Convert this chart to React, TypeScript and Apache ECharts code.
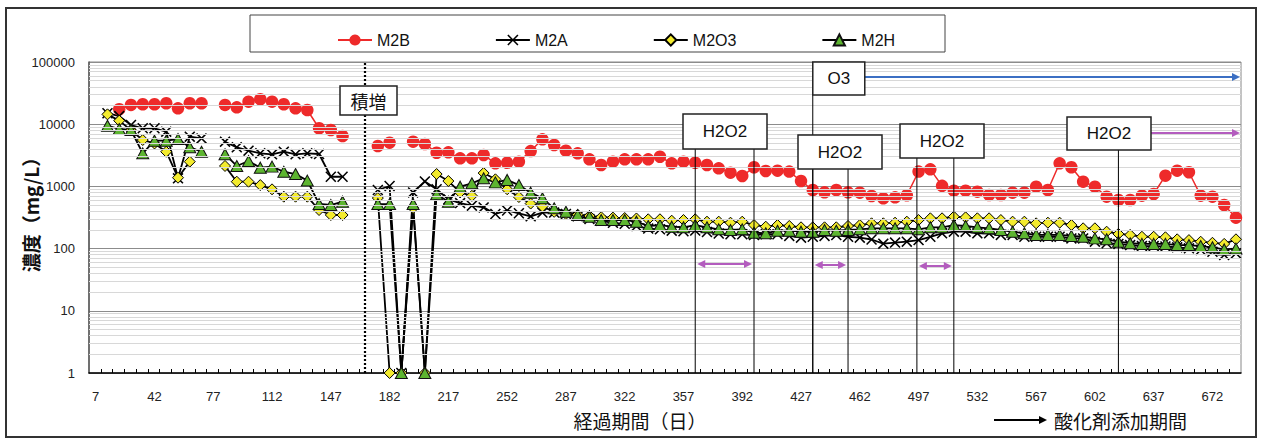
import React, { useEffect, useRef } from "react";
import * as echarts from "echarts";

const days = [14,21,28,35,42,49,56,63,70,77,84,91,98,105,112,119,126,133,140,147,154,161,168,175,182,189,196,203,210,217,224,231,238,245,252,259,266,273,280,287,294,301,308,315,322,329,336,343,350,357,364,371,378,385,392,399,406,413,420,427,434,441,448,455,462,469,476,483,490,497,504,511,518,525,532,539,546,553,560,567,574,581,588,595,602,609,616,623,630,637,644,651,658,665,672,679,686];

const m2b = [
  null,17400,20400,20900,20900,21700,18000,21700,21700,null,
  20400,18700,23000,25200,23000,20900,18000,16900,8600,8070,
  6460,null,null,4460,5040,null,5230,4810,3480,3530,
  2830,2830,3200,2350,2400,2500,3700,5710,4630,3750,
  3400,2720,2210,2500,2720,2720,2720,3000,2350,2500,
  2400,2210,1950,1660,1470,2030,1770,1790,1730,1220,
  875,804,875,804,793,701,643,667,720,1730,
  1880,1020,853,853,822,728,728,793,793,990,
  875,2350,2030,1190,990,683,604,604,709,755,
  1490,1790,1690,709,683,502,314,
];
const m2a = [
  15000,13500,9700,8600,8600,7580,1350,6300,5900,null,
  5230,4250,3750,3400,3280,3610,3280,3400,3320,1430,
  1430,null,null,875,1015,1,800,1200,900,620,
  540,490,460,360,410,370,330,380,380,360,
  330,300,280,260,250,230,210,204,194,190,
  195,185,175,170,170,165,170,170,160,150,
  155,160,165,155,150,140,120,125,129,137,
  155,176,187,187,176,176,166,166,155,155,
  155,155,146,146,129,122,119,114,110,110,
  108,105,101,95,89,79,84,
];
const m2o3 = [
  14400,11400,8000,5570,4900,3610,1380,2500,null,null,
  2130,1190,1190,1050,897,684,684,684,417,347,
  347,null,null,650,1,1,450,1,1580,1220,
  800,705,1640,1300,900,675,530,475,390,360,
  350,335,320,315,310,305,296,296,281,288,
  296,271,271,261,271,239,225,239,231,220,
  220,220,220,231,239,255,255,261,271,288,
  307,307,326,318,307,307,288,271,271,255,
  261,261,239,212,212,187,172,166,155,155,
  152,141,137,129,124,119,141,
];
const m2h = [
  9460,8370,8070,3400,5430,5430,5780,4270,3610,null,
  3280,2130,2560,2000,2080,1720,1580,1240,521,502,
  568,null,null,520,520,1,520,1,750,568,
  990,1120,1350,1160,1270,1050,793,643,444,392,
  347,326,288,288,288,271,231,239,225,220,
  239,220,204,199,204,180,176,194,194,187,
  187,199,194,199,204,212,212,212,212,204,
  220,220,239,231,220,212,199,187,176,166,
  166,166,160,155,146,141,129,122,119,119,
  119,114,114,110,105,97,100,
];

const seriesNames = ["M2B", "M2A", "M2O3", "M2H"];
const xLabelValues = [7,42,77,112,147,182,217,252,287,322,357,392,427,462,497,532,567,602,637,672];
const xTickValues = [10,17,24,31,38,45,52,59,66,73,80,87,94,101,108,115,122,129,136,143,150,157,164,171,178,185,192,199,206,213,220,227,234,241,248,255,262,269,276,283,290,297,304,311,318,325,332,339,346,353,360,367,374,381,388,395,402,409,416,423,430,437,444,451,458,465,472,479,486,493,500,507,514,521,528,535,542,549,556,563,570,577,584,591,598,605,612,619,626,633,640,647,654,661,668,675,682];
const yMinorValues = [2,3,4,5,6,7,8,9,20,30,40,50,60,70,80,90,200,300,400,500,600,700,800,900,2000,3000,4000,5000,6000,7000,8000,9000,20000,30000,40000,50000,60000,70000,80000,90000];

const dottedDay = 167;
const h2o2Periods = [[364, 399], [434, 455], [496, 518]];
const h2o2OpenStart = 616;
const o3Start = 434;

const X_PATH = "path://M1,0 L5,4 L9,0 L10,1 L6,5 L10,9 L9,10 L5,6 L1,10 L0,9 L4,5 L0,1 Z";
const LATIN = "Liberation Sans, Arial, sans-serif";
const CJK = "Noto Sans CJK JP, sans-serif";

function toData(arr: (number | null)[]) {
  return days.map((d, i) => [d, arr[i] == null ? "-" : arr[i]]);
}

export default function App() {
  const ref = useRef<HTMLDivElement>(null);
  useEffect(() => {
    const chart = echarts.init(ref.current!, null, { renderer: "svg" });
    const blackLine = { color: "#000", width: 1.8 };
    chart.setOption({
      animation: false,
      backgroundColor: "#fff",
      grid: { left: 89, right: 22, top: 62, bottom: 66, show: true, borderColor: "#888", borderWidth: 1 },
      legend: {
        data: seriesNames,
        left: 332,
        top: 27,
        itemWidth: 34,
        itemHeight: 14,
        itemGap: 85,
        textStyle: { fontSize: 16, fontFamily: LATIN, color: "#111" },
      },
      xAxis: {
        type: "value",
        min: 3,
        max: 689,
        axisLine: { show: true, onZero: false, lineStyle: { color: "#000", width: 1.5 } },
        axisTick: { show: true, inside: true, length: 4, customValues: xTickValues, lineStyle: { color: "#000" } },
        axisLabel: { customValues: xLabelValues, fontSize: 13, fontFamily: LATIN, color: "#222", margin: 17 },
        splitLine: { show: false },
      },
      yAxis: {
        type: "log",
        logBase: 10,
        min: 1,
        max: 100000,
        axisLine: { show: true, lineStyle: { color: "#555", width: 1.5 } },
        axisTick: { show: false },
        axisLabel: { fontSize: 13, fontFamily: LATIN, color: "#222", margin: 14, formatter: (v: number) => String(Math.round(v)) },
        splitLine: { show: true, lineStyle: { color: "#8c8c8c", width: 1 } },
      },
      series: [
        {
          name: "grid-minor",
          type: "line",
          data: [],
          z: 1,
          silent: true,
          markLine: {
            silent: true,
            symbol: ["none", "none"],
            label: { show: false },
            lineStyle: { color: "#d8d8d8", type: "solid", width: 1 },
            data: [
              ...yMinorValues.map((v) => ({ yAxis: v })),
              { xAxis: dottedDay, lineStyle: { color: "#000", type: [2, 2], width: 2.2 } },
            ],
          },
        },
        {
          name: "M2B",
          type: "line",
          data: toData(m2b),
          symbol: "circle",
          symbolSize: 12.5,
          itemStyle: { color: "#EE2A2A" },
          lineStyle: { color: "#EE2A2A", width: 1.5 },
          connectNulls: false,
        },
        {
          name: "M2A",
          type: "line",
          data: toData(m2a),
          symbol: X_PATH,
          symbolSize: 11,
          itemStyle: { color: "#000" },
          lineStyle: blackLine,
          connectNulls: false,
        },
        {
          name: "M2O3",
          type: "line",
          data: toData(m2o3),
          symbol: "diamond",
          symbolSize: [11, 11],
          itemStyle: { color: "#F3EB2E", borderColor: "#000", borderWidth: 1 },
          lineStyle: blackLine,
          connectNulls: false,
        },
        {
          name: "M2H",
          type: "line",
          data: toData(m2h),
          symbol: "triangle",
          symbolSize: [12, 11],
          itemStyle: { color: "#5DB530", borderColor: "#111", borderWidth: 1 },
          lineStyle: blackLine,
          connectNulls: false,
        },
      ],
    });

    const xp = (d: number) => chart.convertToPixel({ xAxisIndex: 0 }, d) as number;
    const yBottom = chart.convertToPixel({ yAxisIndex: 0 }, 1) as number;
    const xRight = xp(689);
    const pink = "#B35CBE";
    const blue = "#3B6FC3";

    const g: any[] = [];
    const vline = (x: number, y1: number, y2: number) =>
      g.push({ type: "line", z: 90, shape: { x1: x, y1, x2: x, y2 }, style: { stroke: "#000", lineWidth: 1 } });
    const box = (x: number, y: number, w: number, h: number, text: string, font: string, size: number) => {
      g.push({ type: "rect", z: 95, shape: { x, y, width: w, height: h }, style: { fill: "#fff", stroke: "#222", lineWidth: 1.5 } });
      g.push({
        type: "text", z: 96, x: x + w / 2, y: y + h / 2,
        style: { text, fontSize: size, fontFamily: font, fill: "#111", textAlign: "center", textVerticalAlign: "middle", align: "center", verticalAlign: "middle" },
      });
    };
    const arrowHead = (x: number, y: number, dir: number, color: string, len = 8, half = 4) =>
      g.push({ type: "polygon", z: 92, shape: { points: [[x, y], [x - dir * len, y - half], [x - dir * len, y + half]] }, style: { fill: color } });
    const hArrow = (x1: number, x2: number, y: number, color: string, both: boolean) => {
      g.push({ type: "line", z: 91, shape: { x1: both ? x1 + 6 : x1, y1: y, x2: x2 - 6, y2: y }, style: { stroke: color, lineWidth: 2 } });
      arrowHead(x2, y, 1, color);
      if (both) arrowHead(x1, y, -1, color);
    };

    // outer frame and legend frame
    g.push({ type: "rect", z: 0, shape: { x: 6, y: 8, width: 1250, height: 429 }, style: { fill: "none", stroke: "#333", lineWidth: 2 } });
    g.push({ type: "rect", z: 0, shape: { x: 250, y: 15, width: 695, height: 37 }, style: { fill: "none", stroke: "#444", lineWidth: 1 } });

    // axis names
    g.push({
      type: "text", x: 30, y: 210, rotation: Math.PI / 2,
      style: { text: "濃度（mg/L）", fontSize: 19, fontWeight: "bold", fontFamily: CJK, fill: "#111", textAlign: "center", textVerticalAlign: "middle", align: "center", verticalAlign: "middle" },
    });
    g.push({
      type: "text", x: 640, y: 420,
      style: { text: "経過期間（日）", fontSize: 19, fontFamily: CJK, fill: "#111", textAlign: "center", textVerticalAlign: "middle", align: "center", verticalAlign: "middle" },
    });
    // oxidant legend
    hArrow(994, 1047, 420, "#000", false);
    g.push({
      type: "text", x: 1054, y: 420,
      style: { text: "酸化剤添加期間", fontSize: 19, fontFamily: CJK, fill: "#111", textAlign: "left", textVerticalAlign: "middle", align: "left", verticalAlign: "middle" },
    });

    // 積増 box
    box(340, 86, 57, 29, "積増", CJK, 18);

    // O3
    const xo3 = xp(o3Start);
    vline(xo3, 95, yBottom);
    box(xo3, 62, 52, 33, "O3", LATIN, 17);
    hArrow(xo3 + 52, xRight - 1, 77, blue, false);

    // H2O2 periods
    const boxPos = [
      { x: 683, y: 114, w: 84, h: 35, ay: 264 },
      { x: 798, y: 135, w: 84, h: 34, ay: 265 },
      { x: 900, y: 124, w: 84, h: 34, ay: 266 },
    ];
    h2o2Periods.forEach((p, i) => {
      const b = boxPos[i];
      const xa = xp(p[0]);
      const xb = xp(p[1]);
      vline(xa, b.y + b.h, yBottom);
      vline(xb, b.y + b.h, yBottom);
      box(b.x, b.y, b.w, b.h, "H2O2", LATIN, 17);
      hArrow(xa + 2, xb - 2, b.ay, pink, true);
    });
    const xo = xp(h2o2OpenStart);
    vline(xo, 150, yBottom);
    box(1067, 117, 84, 33, "H2O2", LATIN, 17);
    hArrow(1151, xRight - 1, 133, pink, false);

    chart.setOption({ graphic: g });
    return () => chart.dispose();
  }, []);
  return <div ref={ref} style={{ position: "fixed", left: 0, top: 0, width: 1263, height: 439, background: "#fff" }} />;
}
